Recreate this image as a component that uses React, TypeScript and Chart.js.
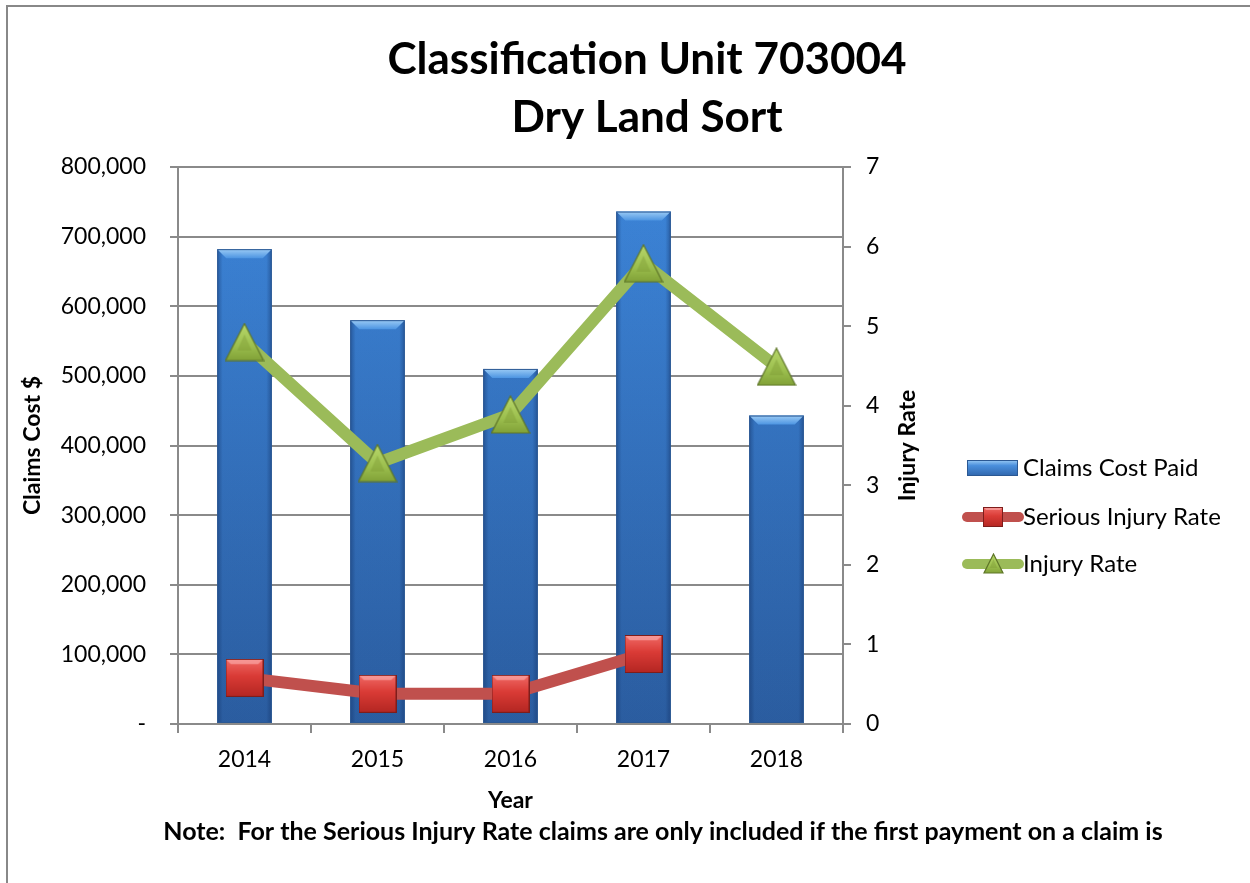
import React, { useEffect, useRef } from 'react';
import { Chart, registerables } from 'chart.js';

Chart.register(...registerables);

const years = ['2014', '2015', '2016', '2017', '2018'];
const claimsCost = [682000, 580000, 510000, 736000, 443000];
const seriousInjuryRate: (number | null)[] = [0.58, 0.38, 0.38, 0.88, null];
const injuryRate = [4.8, 3.28, 3.89, 5.79, 4.49];
const leftTicks = [0, 100000, 200000, 300000, 400000, 500000, 600000, 700000, 800000];
const rightTicks = [0, 1, 2, 3, 4, 5, 6, 7];
const titleLines = ['Classification Unit 703004', 'Dry Land Sort'];
const noteText = 'Note:  For the Serious Injury Rate claims are only included if the first payment on a claim is';
const seriesLabels = ['Claims Cost Paid', 'Serious Injury Rate', 'Injury Rate'];
const leftAxisTitle = 'Claims Cost $';
const rightAxisTitle = 'Injury Rate';
const xAxisTitle = 'Year';

const FONT = 'Lato';
const GRID = '#8a8a8a';
const RED = '#C0504D';
const GREEN = '#9BBB59';

function makeSquare(size: number): HTMLCanvasElement {
  const c = document.createElement('canvas');
  c.width = size;
  c.height = size;
  const g = c.getContext('2d')!;
  const grad = g.createLinearGradient(0, 0, 0, size);
  grad.addColorStop(0, '#F06A66');
  grad.addColorStop(0.45, '#DA3B36');
  grad.addColorStop(1, '#B32622');
  g.fillStyle = grad;
  g.fillRect(0, 0, size, size);
  const b = Math.max(3, size * 0.14);
  g.beginPath();
  g.moveTo(0, 0);
  g.lineTo(size, 0);
  g.lineTo(size - b, b);
  g.lineTo(b, b);
  g.closePath();
  g.fillStyle = 'rgba(255,190,190,0.55)';
  g.fill();
  g.strokeStyle = '#7E1D1B';
  g.lineWidth = 1;
  g.strokeRect(0.5, 0.5, size - 1, size - 1);
  return c;
}

function makeTriangle(w: number, h: number): HTMLCanvasElement {
  const c = document.createElement('canvas');
  c.width = w;
  c.height = h;
  const g = c.getContext('2d')!;
  const grad = g.createLinearGradient(0, 0, 0, h);
  grad.addColorStop(0, '#B9D86C');
  grad.addColorStop(0.6, '#9CBF4E');
  grad.addColorStop(1, '#7F9F36');
  g.beginPath();
  g.moveTo(w / 2, 1);
  g.lineTo(w - 1, h - 1);
  g.lineTo(1, h - 1);
  g.closePath();
  g.fillStyle = grad;
  g.fill();
  g.strokeStyle = '#5E7628';
  g.lineWidth = 1.2;
  g.stroke();
  g.beginPath();
  g.moveTo(w / 2, h * 0.3);
  g.lineTo(w * 0.68, h * 0.72);
  g.lineTo(w * 0.32, h * 0.72);
  g.closePath();
  g.fillStyle = 'rgba(120,150,50,0.35)';
  g.fill();
  return c;
}

export default function App() {
  const ref = useRef<HTMLCanvasElement | null>(null);

  useEffect(() => {
    if (!ref.current) return;
    const square = makeSquare(38);
    const triangle = makeTriangle(40, 39);
    const squareSmall = makeSquare(20);
    const triangleSmall = makeTriangle(21, 21);

    const decorPlugin = {
      id: 'decor',
      afterDatasetDraw(chart: any, args: any) {
        if (args.index !== 0) return;
        const ctx = chart.ctx;
        const meta = chart.getDatasetMeta(0);
        ctx.save();
        meta.data.forEach((bar: any) => {
          const { x, y, base, width } = bar.getProps(['x', 'y', 'base', 'width'], true);
          const l = x - width / 2;
          const r = x + width / 2;
          const g = ctx.createLinearGradient(l, 0, r, 0);
          g.addColorStop(0, 'rgba(15,45,95,0.45)');
          g.addColorStop(0.1, 'rgba(15,45,95,0.05)');
          g.addColorStop(0.9, 'rgba(15,45,95,0.05)');
          g.addColorStop(1, 'rgba(15,45,95,0.45)');
          ctx.fillStyle = g;
          ctx.fillRect(l, y, width, base - y);
          const b = 9;
          ctx.beginPath();
          ctx.moveTo(l, y);
          ctx.lineTo(r, y);
          ctx.lineTo(r - b, y + b);
          ctx.lineTo(l + b, y + b);
          ctx.closePath();
          const tg = ctx.createLinearGradient(0, y, 0, y + b);
          tg.addColorStop(0, '#9BCBF5');
          tg.addColorStop(1, '#4D95E2');
          ctx.fillStyle = tg;
          ctx.fill();
          ctx.strokeStyle = '#2B5893';
          ctx.lineWidth = 1;
          ctx.strokeRect(l + 0.5, y + 0.5, width - 1, base - y - 1);
        });
        ctx.restore();
      },
      afterDraw(chart: any) {
        const ctx = chart.ctx;
        const area = chart.chartArea;
        ctx.save();
        // outer frame
        ctx.strokeStyle = '#888888';
        ctx.lineWidth = 2;
        ctx.beginPath();
        ctx.moveTo(7, 883);
        ctx.lineTo(7, 6);
        ctx.lineTo(1250, 6);
        ctx.stroke();
        // title
        ctx.fillStyle = '#000';
        ctx.textAlign = 'center';
        ctx.textBaseline = 'middle';
        ctx.font = `bold 44px ${FONT}`;
        ctx.fillText(titleLines[0], 647, 60);
        ctx.fillText(titleLines[1], 647, 118);
        // right axis title (reads bottom to top)
        ctx.font = `bold 23px ${FONT}`;
        ctx.save();
        ctx.translate(908, (area.top + area.bottom) / 2);
        ctx.rotate(-Math.PI / 2);
        ctx.fillText(rightAxisTitle, 0, 0);
        ctx.restore();
        // note
        ctx.font = `bold 25px ${FONT}`;
        ctx.fillText(noteText, 663, 832);
        // legend
        const lx = 967;
        const ys = [468, 517, 564];
        const bg = ctx.createLinearGradient(0, ys[0] - 8, 0, ys[0] + 8);
        bg.addColorStop(0, '#9BCBF5');
        bg.addColorStop(0.35, '#4A8FDD');
        bg.addColorStop(1, '#2F66AC');
        ctx.fillStyle = bg;
        ctx.fillRect(lx, ys[0] - 8, 51, 16);
        ctx.strokeStyle = '#2B5893';
        ctx.lineWidth = 1;
        ctx.strokeRect(lx + 0.5, ys[0] - 7.5, 50, 15);
        ctx.lineCap = 'round';
        ctx.lineWidth = 10;
        ctx.strokeStyle = RED;
        ctx.beginPath();
        ctx.moveTo(lx, ys[1]);
        ctx.lineTo(lx + 52, ys[1]);
        ctx.stroke();
        ctx.drawImage(squareSmall, lx + 16, ys[1] - 10);
        ctx.strokeStyle = GREEN;
        ctx.beginPath();
        ctx.moveTo(lx, ys[2]);
        ctx.lineTo(lx + 52, ys[2]);
        ctx.stroke();
        ctx.drawImage(triangleSmall, lx + 16, ys[2] - 11);
        ctx.fillStyle = '#000';
        ctx.textAlign = 'left';
        ctx.font = `24px ${FONT}`;
        seriesLabels.forEach((t, i) => ctx.fillText(t, 1023, ys[i]));
        ctx.restore();
      },
    };

    const tickFont = { family: FONT, size: 23 };
    const titleFont = { family: FONT, size: 23, weight: 'bold' as const };

    const chart = new Chart(ref.current, {
      type: 'bar',
      data: {
        labels: years,
        datasets: [
          {
            type: 'bar',
            label: seriesLabels[0],
            data: claimsCost,
            yAxisID: 'y',
            order: 10,
            barPercentage: 0.41,
            categoryPercentage: 1,
            backgroundColor: (c: any) => {
              const area = c.chart.chartArea;
              if (!area) return '#3A7BC8';
              const g = c.chart.ctx.createLinearGradient(0, area.top, 0, area.bottom);
              g.addColorStop(0, '#3F8AE0');
              g.addColorStop(1, '#2C5FA3');
              return g;
            },
            borderWidth: 0,
          } as any,
          {
            type: 'line',
            label: seriesLabels[1],
            data: seriousInjuryRate,
            yAxisID: 'y1',
            order: 1,
            borderColor: RED,
            borderWidth: 12,
            pointStyle: square,
            pointRadius: 19,
            tension: 0,
            spanGaps: false,
          } as any,
          {
            type: 'line',
            label: seriesLabels[2],
            data: injuryRate,
            yAxisID: 'y1',
            order: 2,
            borderColor: GREEN,
            borderWidth: 12,
            pointStyle: triangle,
            pointRadius: 19,
            tension: 0,
          } as any,
        ],
      },
      options: {
        responsive: false,
        maintainAspectRatio: false,
        animation: false,
        layout: { padding: { top: 167, left: 0, right: 0, bottom: 0 } },
        plugins: {
          legend: { display: false },
          title: { display: false },
          tooltip: { enabled: false },
        },
        scales: {
          x: {
            type: 'category',
            offset: true,
            grid: { offset: true, drawOnChartArea: false, drawTicks: true, tickLength: 9, color: GRID, lineWidth: 2 },
            border: { display: true, color: GRID, width: 2 },
            ticks: { font: tickFont, color: '#000', padding: 13, maxRotation: 0 },
            title: { display: true, text: xAxisTitle, font: titleFont, color: '#000', padding: { top: 0, bottom: 69 } },
            afterFit: (s: any) => {
              s.height = 159;
            },
          },
          y: {
            position: 'left',
            min: leftTicks[0],
            max: leftTicks[leftTicks.length - 1],
            afterBuildTicks: (s: any) => {
              s.ticks = leftTicks.map((v) => ({ value: v }));
            },
            ticks: {
              font: tickFont,
              color: '#000',
              padding: 24,
              callback: (v: any) => (Number(v) === 0 ? '-' : Number(v).toLocaleString('en-US')),
            },
            grid: { color: GRID, lineWidth: 2, tickLength: 8 },
            border: { display: true, color: GRID, width: 2 },
            title: { display: true, text: leftAxisTitle, font: titleFont, color: '#000', padding: { top: 19, bottom: 0 } },
            afterFit: (s: any) => {
              s.width = 178;
            },
          },
          y1: {
            position: 'right',
            min: rightTicks[0],
            max: rightTicks[rightTicks.length - 1],
            afterBuildTicks: (s: any) => {
              s.ticks = rightTicks.map((v) => ({ value: v }));
            },
            ticks: { font: tickFont, color: '#000', padding: 15 },
            grid: { drawOnChartArea: false, drawTicks: true, tickLength: 8, color: GRID, lineWidth: 2 },
            border: { display: true, color: GRID, width: 2 },
            title: { display: false },
            afterFit: (s: any) => {
              s.width = 407;
            },
          },
        },
      } as any,
      plugins: [decorPlugin],
    });
    return () => chart.destroy();
  }, []);

  return (
    <div style={{ position: 'absolute', left: 0, top: 0, width: 1250, height: 883, background: '#fff' }}>
      <canvas ref={ref} width={1250} height={883} style={{ display: 'block', width: 1250, height: 883 }} />
    </div>
  );
}
